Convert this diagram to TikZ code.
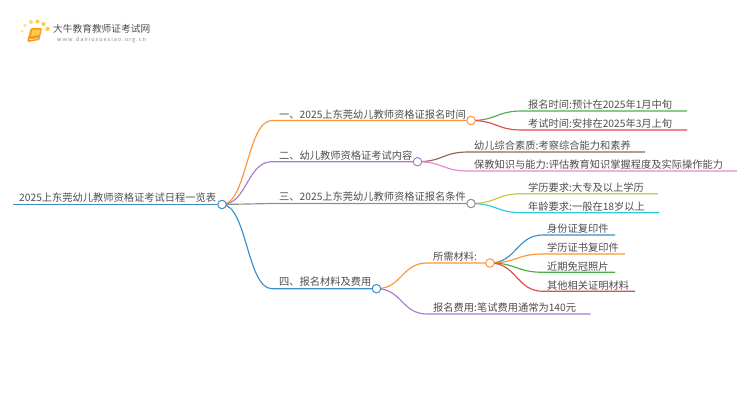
\documentclass[tikz,border=0pt]{standalone}
\usepackage{fontspec}
\setmainfont{Noto Sans CJK SC}
\usetikzlibrary{calc,backgrounds}
\definecolor{cblue}{HTML}{3C8DC8}
\definecolor{corange}{HTML}{FF9430}
\definecolor{cpurple}{HTML}{A87CCB}
\definecolor{cgray}{HTML}{8F8F8F}
\definecolor{cgreen}{HTML}{4CAF43}
\definecolor{cred}{HTML}{E04B4B}
\definecolor{cbrown}{HTML}{946458}
\definecolor{cpink}{HTML}{EC86CC}
\definecolor{cyellow}{HTML}{C9C740}
\definecolor{ccyan}{HTML}{2FC9DC}
\definecolor{ctext}{HTML}{4D4D4D}
\definecolor{logoA}{HTML}{FFE9A8}
\definecolor{logoB}{HTML}{FFE08A}
\definecolor{logoC}{HTML}{FFD76A}
\definecolor{logoD}{HTML}{FFCB45}
\definecolor{bookA}{HTML}{F59A1E}
\definecolor{bookB}{HTML}{FFC94A}
\tikzset{
  x=1pt,y=-1pt,
  lbl/.style={text=ctext,font=\fontsize{10.25}{12}\selectfont,inner sep=0pt,anchor=base west},
  hub/.style={circle,draw=#1,fill=white,line width=1pt,minimum size=8.5pt,inner sep=0pt},
  wire/.style={draw=#1,line width=1.15pt},
  dotlogo/.style={circle,fill=#1,inner sep=0pt},
}
\newcommand{\branch}[4]{% colour, from node, elbow coord, end
  \draw[wire=#1] (#2.center) .. controls ($(#2.center)!0.5!(#2.center -| #3)$) and ($(#3)!0.5!(#2.center |- #3)$) .. (#3) -- (#4);
}
\begin{document}
\begin{tikzpicture}
\useasboundingbox (0,0) rectangle (750,410);
% logo
\node[dotlogo=logoA,minimum size=2.4pt] (dota) at (24,38) {};
\node[dotlogo=logoB,minimum size=3pt] (dotb) at (22,31) {};
\node[dotlogo=logoB,minimum size=3.6pt] (dotc) at (25,25.5) {};
\node[dotlogo=logoC,minimum size=4pt] (dotd) at (31,22) {};
\node[dotlogo=logoD,minimum size=4pt] (dote) at (37.5,21.5) {};
\node[dotlogo=logoD,minimum size=4pt] (dotf) at (43.5,24) {};
\node[dotlogo=logoD,minimum size=4.4pt] (dotg) at (47.5,29) {};
\fill[bookA,rounded corners=1pt] (31,28) -- (42,28) -- (39.5,40) -- (28,42) -- (27,41) -- cycle;
\fill[bookB] (32.5,29.5) -- (40.5,29.5) -- (39,35) -- (31,36) -- cycle;
\draw[white,line width=0.5pt] (29,39.8) -- (38.5,38.5);
\node[inner sep=0pt,anchor=base west,text=black!70,font=\fontsize{9.7}{12}\selectfont] (brand) at (53,32) {大牛教育教师证考试网};
\node[inner sep=0pt,anchor=base west,text=black!45,font=\fontsize{5.6}{7}\selectfont] (site) at (57,41.5) {w\,w\,w\,.\,d\,a\,n\,i\,u\,x\,u\,e\,x\,i\,a\,o\,.\,o\,r\,g\,.\,c\,n};
% hubs
\coordinate (rootstart) at (13,204.5);
\node[hub=cblue] (root) at (222,204.5) {};
\node[hub=corange] (h1) at (471,120.5) {};
\node[hub=cpurple] (h2) at (417.5,161.7) {};
\node[hub=cgray] (h3) at (471,203.5) {};
\node[hub=cblue] (h4) at (376.5,288.7) {};
\node[hub=corange] (h5) at (490,263) {};
% elbows
\coordinate (e1) at (272,120.5);
\coordinate (e2) at (272,161.7);
\coordinate (e3) at (272,203.5);
\coordinate (e4) at (272,288.7);
\coordinate (a1) at (522,111); \coordinate (a1e) at (687,111);
\coordinate (a2) at (522,130); \coordinate (a2e) at (687,130);
\coordinate (b1) at (468,152); \coordinate (b1e) at (645,152);
\coordinate (b2) at (468,171); \coordinate (b2e) at (737,171);
\coordinate (c1) at (522,193.7); \coordinate (c1e) at (658,193.7);
\coordinate (c2) at (522,212.7); \coordinate (c2e) at (659,212.7);
\coordinate (d1) at (427,263);
\coordinate (d2) at (427,314); \coordinate (d2e) at (590.5,314);
\coordinate (f1) at (543,235); \coordinate (f1e) at (615,235);
\coordinate (f2) at (543,254); \coordinate (f2e) at (625,254);
\coordinate (f3) at (543,272.3); \coordinate (f3e) at (615,272.3);
\coordinate (f4) at (543,291.3); \coordinate (f4e) at (635,291.3);
% connectors
\begin{scope}[on background layer]
\draw[wire=cblue] (rootstart) -- (root);
\branch{corange}{root}{e1}{h1}
\branch{cpurple}{root}{e2}{h2}
\branch{cgray}{root}{e3}{h3}
\branch{cblue}{root}{e4}{h4}
\branch{cgreen}{h1}{a1}{a1e}
\branch{cred}{h1}{a2}{a2e}
\branch{cbrown}{h2}{b1}{b1e}
\branch{cpink}{h2}{b2}{b2e}
\branch{cyellow}{h3}{c1}{c1e}
\branch{ccyan}{h3}{c2}{c2e}
\branch{corange}{h4}{d1}{h5}
\branch{cpurple}{h4}{d2}{d2e}
\branch{cblue}{h5}{f1}{f1e}
\branch{corange}{h5}{f2}{f2e}
\branch{cgreen}{h5}{f3}{f3e}
\branch{cred}{h5}{f4}{f4e}
\end{scope}
% labels
\node[lbl] (troot) at (19,201.5) {2025上东莞幼儿教师资格证考试日程一览表};
\node[lbl] (t1) at (279,118) {一、2025上东莞幼儿教师资格证报名时间};
\node[lbl] (t2) at (279,159) {二、幼儿教师资格证考试内容};
\node[lbl] (t3) at (279,200.5) {三、2025上东莞幼儿教师资格证报名条件};
\node[lbl] (t4) at (279,285.5) {四、报名材料及费用};
\node[lbl] (ta1) at (528,108.5) {报名时间:预计在2025年1月中旬};
\node[lbl] (ta2) at (528,127.5) {考试时间:安排在2025年3月上旬};
\node[lbl] (tb1) at (474,149.5) {幼儿综合素质:考察综合能力和素养};
\node[lbl] (tb2) at (474,168.5) {保教知识与能力:评估教育知识掌握程度及实际操作能力};
\node[lbl] (tc1) at (528,191) {学历要求:大专及以上学历};
\node[lbl] (tc2) at (528,210) {年龄要求:一般在18岁以上};
\node[lbl] (td1) at (433,260) {所需材料:};
\node[lbl] (td2) at (433,311) {报名费用:笔试费用通常为140元};
\node[lbl] (tf1) at (547,232) {身份证复印件};
\node[lbl] (tf2) at (547,251) {学历证书复印件};
\node[lbl] (tf3) at (547,270) {近期免冠照片};
\node[lbl] (tf4) at (547,289) {其他相关证明材料};
\end{tikzpicture}
\end{document}
